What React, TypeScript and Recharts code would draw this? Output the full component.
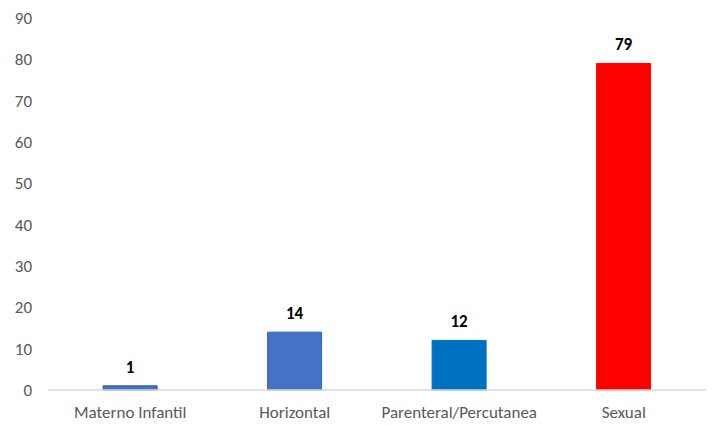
import React from 'react';
import { BarChart, Bar, XAxis, YAxis, Cell, LabelList } from 'recharts';

const categories = ['Materno Infantil', 'Horizontal', 'Parenteral/Percutanea', 'Sexual'];
const values = [1, 14, 12, 79];
const fills = ['#4472C4', '#4472C4', '#0070C0', '#FF0000'];
const strokes = ['#2F5597', '#2F6BC0', '#0070C0', '#FF0000'];
const yTicks = [0, 10, 20, 30, 40, 50, 60, 70, 80, 90];

const data = categories.map((name, i) => ({ name, value: values[i] }));

const FONT = 'Carlito, Lato, "Open Sans", sans-serif';

const App: React.FC = () => {
  return (
    <div
      style={{
        position: 'absolute',
        top: 0,
        left: 0,
        width: 717,
        height: 426,
        overflow: 'hidden',
        background: '#fff',
        fontFamily: FONT,
      }}
    >
      <BarChart
        width={717}
        height={426}
        data={data}
        margin={{ top: 18, right: 11, left: 0, bottom: 0 }}
        barCategoryGap="33.5%"
      >
        <XAxis
          dataKey="name"
          axisLine={{ stroke: '#D9D9D9', strokeWidth: 1.5 }}
          tickLine={false}
          tickSize={0}
          tickMargin={16}
          height={36}
          tick={{ fill: '#595959', fontSize: 17, fontFamily: FONT }}
          interval={0}
        />
        <YAxis
          domain={[0, 90]}
          ticks={yTicks}
          axisLine={false}
          tickLine={false}
          tickSize={0}
          tickMargin={16}
          width={48}
          tick={{ fill: '#595959', fontSize: 17, fontFamily: FONT }}
          interval={0}
        />
        <Bar dataKey="value" isAnimationActive={false}>
          {data.map((d, i) => (
            <Cell key={`cell-${i}`} fill={fills[i]} stroke={strokes[i]} strokeWidth={1} />
          ))}
          <LabelList
            dataKey="value"
            position="top"
            offset={13}
            style={{ fill: '#000', fontSize: 17, fontWeight: 'bold', fontFamily: FONT }}
          />
        </Bar>
      </BarChart>
    </div>
  );
};

export default App;
